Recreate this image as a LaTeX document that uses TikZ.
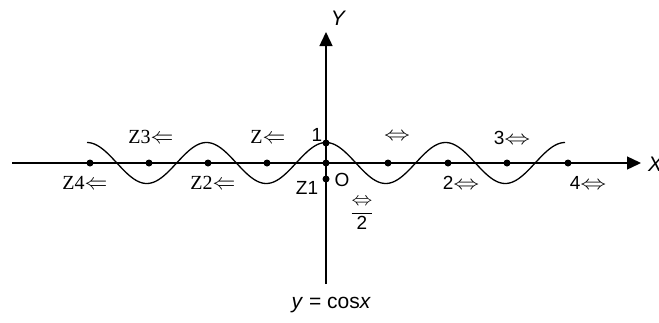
\documentclass[tikz,border=0pt]{standalone}
\usepackage{fontspec}
\usepackage{graphicx}
\setmainfont{Liberation Sans}
\newfontfamily\serifZ{Liberation Serif}
\usetikzlibrary{arrows.meta}
\newcommand{\larr}{\scalebox{1.1}[1.1]{$\Leftarrow$}}
\newcommand{\lrarr}{\scalebox{1.5}[1.15]{$\Leftrightarrow$}}
\begin{document}
\begin{tikzpicture}[x=1pt,y=-1pt,
  axis/.style={line width=1.4pt,-{Triangle[length=14pt,width=13pt]}},
  curve/.style={line width=1.3pt},
  dot/.style={circle,fill=black,inner sep=0pt,minimum size=7pt},
  lbl/.style={inner sep=0pt,font=\fontsize{19}{22}\selectfont},
  biglbl/.style={inner sep=0pt,font=\fontsize{21}{24}\selectfont},
  zlbl/.style={inner sep=0pt,font=\fontsize{20}{22}\selectfont\serifZ}]
\useasboundingbox (0,0) rectangle (659,322);
% axes
\coordinate (xs) at (12,163);
\coordinate (xe) at (641,163);
\coordinate (ys) at (326,284);
\coordinate (ye) at (326,32);
\draw[axis] (xs) -- (xe);
\draw[axis] (ys) -- (ye);
% curve
\draw[curve] plot[domain=-239:239,samples=240] ({326+\x},{163-20.5*cos(\x*3.0126)});
% dots
\node[dot] (m4) at (90,163) {};
\node[dot] (m3) at (149,163) {};
\node[dot] (m2) at (208,163) {};
\node[dot] (m1) at (267,163) {};
\node[dot] (o) at (326,163) {};
\node[dot] (p1) at (388,163) {};
\node[dot] (p2) at (448,163) {};
\node[dot] (p3) at (507,163) {};
\node[dot] (p4) at (568,163) {};
\node[dot] (one) at (326,143) {};
\node[dot] (neg) at (326,179) {};
% labels
\node[biglbl] (lY) at (338,18) {\itshape Y};
\node[biglbl,anchor=west] (lX) at (648,164) {\itshape X};
\node[zlbl] (lm3) at (151,137) {Z3\larr};
\node[zlbl] (lm1) at (268,137) {Z\larr};
\node[zlbl] (lm4) at (85,183) {Z4\larr};
\node[zlbl] (lm2) at (213,183) {Z2\larr};
\node[lbl] (lz1) at (307,188) {Z1};
\node[lbl] (lO) at (342,180) {O};
\node[lbl] (l1) at (317,135) {1};
\node[lbl] (lp1) at (397,137) {\lrarr};
\node[lbl] (lp3) at (512,138) {3\lrarr};
\node[lbl] (lp2) at (461,183) {2\lrarr};
\node[lbl] (lp4) at (588,183) {4\lrarr};
\node[lbl] (lfr) at (362,214) {$\displaystyle\frac{\scalebox{1.2}[1.1]{$\Leftrightarrow$}}{\mbox{2}}$};
\node[biglbl] (lcap) at (331,305) {\itshape y\/\upshape{} = cos\itshape x};
\end{tikzpicture}
\end{document}
